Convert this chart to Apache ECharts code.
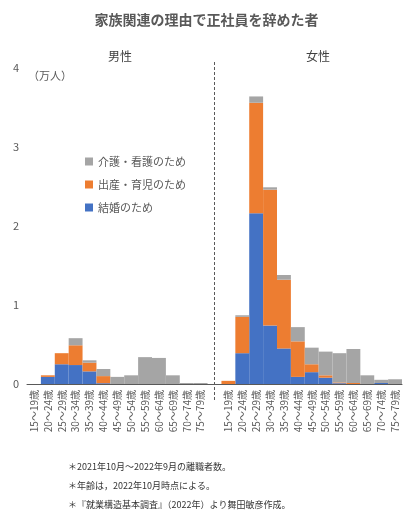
<!DOCTYPE html>
<html><head><meta charset="utf-8">
<script src="https://cdn.jsdelivr.net/npm/echarts@6/dist/echarts.min.js"></script>
<style>html,body{margin:0;padding:0;background:#fff}#c{width:413px;height:524px}</style>
</head><body><div id="c"></div>
<script>
// 年齢階級
var ages = ["15～19歳","20～24歳","25～29歳","30～34歳","35～39歳","40～44歳","45～49歳",
            "50～54歳","55～59歳","60～64歳","65～69歳","70～74歳","75～79歳"];
// 男性（万人）
var maleMarriage = [0,0.09,0.25,0.24,0.16,0.01,0,0,0,0,0,0,0];
var maleBirth    = [0,0.02,0.14,0.25,0.11,0.09,0,0,0,0,0,0,0];
var maleCare     = [0,0,0,0.09,0.03,0.09,0.09,0.11,0.34,0.33,0.11,0.013,0.013];
// 女性（万人）
var femMarriage  = [0,0.39,2.16,0.74,0.45,0.09,0.15,0.08,0.01,0,0,0.013,0];
var femBirth     = [0.04,0.46,1.40,1.72,0.87,0.45,0.10,0.03,0.01,0.013,0,0,0];
var femCare      = [0,0.02,0.08,0.03,0.06,0.18,0.21,0.30,0.37,0.43,0.11,0.04,0.06];

var cats = ages.concat([""]).concat(ages);
function join(m, f) { return m.concat([null]).concat(f); }

var chart = echarts.init(document.getElementById("c"));
var font = "'Noto Sans CJK JP', sans-serif";
function bar(name, data, color) {
  return { name: name, type: "bar", stack: "t", data: data, barCategoryGap: 0,
           itemStyle: { color: color }, animation: false };
}
chart.setOption({
  textStyle: { fontFamily: font },
  title: { text: "家族関連の理由で正社員を辞めた者", left: "center", top: 8,
           textStyle: { fontSize: 14, fontWeight: "bold", color: "#595959", fontFamily: font } },
  legend: { orient: "vertical", left: 80, top: 151, itemGap: 12, itemWidth: 8, itemHeight: 8,
            icon: "rect", textStyle: { fontSize: 11, color: "#595959" },
            data: ["介護・看護のため", "出産・育児のため", "結婚のため"] },
  grid: { left: 27, right: 11, top: 68, bottom: 140 },
  xAxis: { type: "category", data: cats,
           axisLine: { lineStyle: { color: "#595959" } }, axisTick: { show: false },
           axisLabel: { rotate: 90, interval: 0, fontSize: 10, color: "#595959", margin: 6 } },
  yAxis: { type: "value", min: 0, max: 4, interval: 1, splitLine: { show: false },
           axisLine: { show: false }, axisTick: { show: false },
           axisLabel: { fontSize: 11, color: "#595959" } },
  graphic: [
    { type: "text", left: 28, top: 70, style: { text: "（万人）", fontSize: 11, fill: "#595959", fontFamily: font } },
    { type: "text", left: 108, top: 50, style: { text: "男性", fontSize: 12, fill: "#404040", fontFamily: font } },
    { type: "text", left: 306, top: 50, style: { text: "女性", fontSize: 12, fill: "#404040", fontFamily: font } },
    { type: "text", left: 68, top: 462, style: { text: "＊2021年10月～2022年9月の離職者数。", fontSize: 9, fill: "#333", fontFamily: font } },
    { type: "text", left: 68, top: 481, style: { text: "＊年齢は，2022年10月時点による。", fontSize: 9, fill: "#333", fontFamily: font } },
    { type: "text", left: 68, top: 500, style: { text: "＊『就業構造基本調査』（2022年）より舞田敏彦作成。", fontSize: 9, fill: "#333", fontFamily: font } }
  ],
  series: [
    bar("結婚のため", join(maleMarriage, femMarriage), "#4472C4"),
    bar("出産・育児のため", join(maleBirth, femBirth), "#ED7D31"),
    bar("介護・看護のため", join(maleCare, femCare), "#A5A5A5")
  ]
});
var gx = chart.convertToPixel({ xAxisIndex: 0 }, 13);
chart.setOption({ graphic: chart.getOption().graphic[0].elements.concat([
  { type: "line", shape: { x1: gx, y1: 62, x2: gx, y2: 402 },
    style: { stroke: "#595959", lineDash: [3, 2], lineWidth: 1 } }
]) });
</script></body></html>
